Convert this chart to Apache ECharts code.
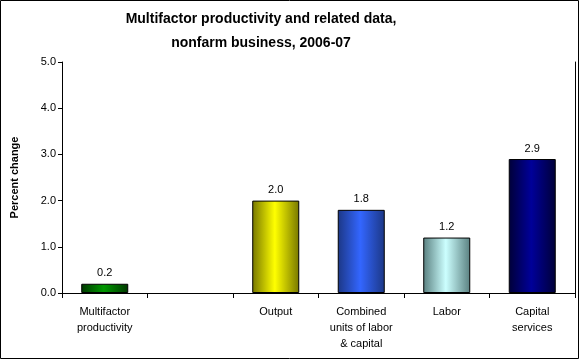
<!DOCTYPE html>
<html><head><meta charset="utf-8">
<script src="https://cdn.jsdelivr.net/npm/echarts@6/dist/echarts.min.js"></script>
<style>html,body{margin:0;padding:0;background:#fff}#c{width:580px;height:360px}</style>
</head><body><div id="c"></div>
<script>
var titleLines = ["Multifactor productivity and related data,", "nonfarm business, 2006-07"];
var categories = ["Multifactor\nproductivity", "", "Output", "Combined\nunits of labor\n& capital", "Labor", "Capital\nservices"];
var values = [0.2, null, 2.0, 1.8, 1.2, 2.9];
var darkColors = ["#003800", "#ffffff", "#777700", "#1c3785", "#5a8080", "#000038"];
var brightColors = ["#009800", "#ffffff", "#ffff00", "#3366ff", "#ccffff", "#000099"];
var yTicks = [0, 1, 2, 3, 4, 5];

function grad(d, b) {
  return new echarts.graphic.LinearGradient(0, 0, 1, 0, [
    {offset: 0, color: d}, {offset: 0.48, color: b}, {offset: 1, color: d}
  ]);
}
var chart = echarts.init(document.getElementById('c'));
var font = 'Arial, "Liberation Sans", sans-serif';
chart.setOption({
  animation: false,
  graphic: [
    {type: 'rect', shape: {x: 0.5, y: 0.5, width: 578, height: 358},
      style: {fill: 'none', stroke: '#000', lineWidth: 1}, silent: true},
    {type: 'text', x: 261, y: 19, style: {text: titleLines[0], fontFamily: font, fontSize: 14, fontWeight: 'bold',
      fill: '#000', align: 'center', verticalAlign: 'middle'}},
    {type: 'text', x: 261, y: 43, style: {text: titleLines[1], fontFamily: font, fontSize: 14, fontWeight: 'bold',
      fill: '#000', align: 'center', verticalAlign: 'middle'}}
  ],
  grid: {left: 62, right: 5, top: 62, bottom: 67},
  xAxis: [{
    type: 'category', data: categories,
    axisLine: {lineStyle: {color: '#000', width: 1}},
    axisTick: {show: true, length: 5, lineStyle: {color: '#000'}},
    axisLabel: {fontFamily: font, fontSize: 11, color: '#000', lineHeight: 16, margin: 11, interval: 0}
  }, {
    type: 'category', data: categories, position: 'top',
    axisLine: {show: true, lineStyle: {color: '#000'}}, axisTick: {show: false}, axisLabel: {show: false}
  }],
  yAxis: [{
    type: 'value', min: 0, max: 5, interval: 1,
    name: 'Percent change', nameLocation: 'middle', nameGap: 42,
    nameTextStyle: {fontFamily: font, fontSize: 11, fontWeight: 'bold', color: '#000'},
    axisLine: {show: true, lineStyle: {color: '#000'}},
    axisTick: {show: true, length: 4, lineStyle: {color: '#000'}},
    splitLine: {show: false},
    axisLabel: {fontFamily: font, fontSize: 11, color: '#000', margin: 6,
      formatter: function (v) { return v.toFixed(1); }}
  }, {
    type: 'value', min: 0, max: 5, interval: 1, position: 'right',
    axisLine: {show: true, lineStyle: {color: '#000'}}, axisTick: {show: false},
    axisLabel: {show: false}, splitLine: {show: false}
  }],
  series: [{
    type: 'bar', barWidth: '55%',
    data: values.map(function (v, i) {
      return {value: v, itemStyle: {color: grad(darkColors[i], brightColors[i]), borderColor: '#000', borderWidth: 1}};
    }),
    label: {show: true, position: 'top', distance: 5, fontFamily: font, fontSize: 11, color: '#000',
      formatter: function (p) { return p.value == null ? '' : p.value.toFixed(1); }}
  }]
});
</script></body></html>
